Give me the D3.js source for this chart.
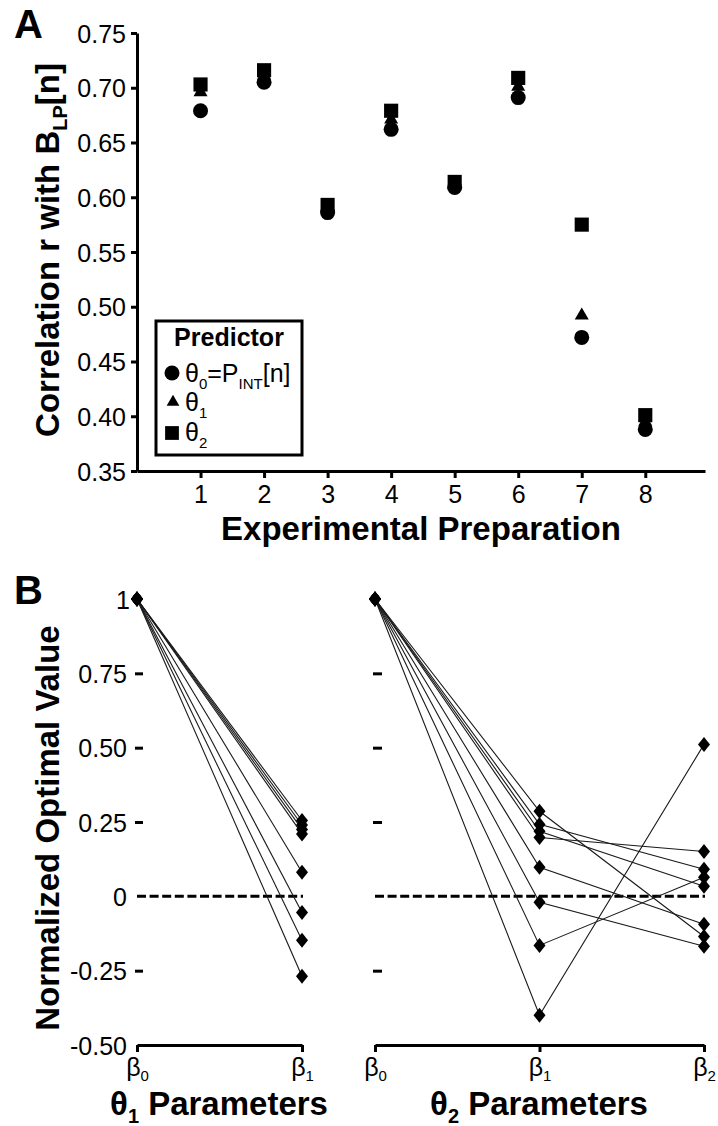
<!DOCTYPE html>
<html>
<head>
<meta charset="utf-8">
<script src="https://cdn.jsdelivr.net/npm/d3@7"></script>
<style>
  body { margin: 0; background: #fff; }
  svg { display: block; font-family: "Liberation Sans", Arial, Helvetica, sans-serif; }
</style>
</head>
<body>
<svg id="chart" width="718" height="1126"></svg>
<script>
// panel A : correlation with B_LP[n] per preparation
var preps = [1, 2, 3, 4, 5, 6, 7, 8];
var rTheta0 = [0.679, 0.705, 0.586, 0.662, 0.609, 0.691, 0.472, 0.388];
var rTheta1 = [0.696, 0.711, 0.590, 0.671, 0.612, 0.701, 0.492, 0.395];
var rTheta2 = [0.703, 0.716, 0.593, 0.679, 0.614, 0.709, 0.575, 0.401];
var yTicksA = [0.35, 0.40, 0.45, 0.50, 0.55, 0.60, 0.65, 0.70, 0.75];

// panel B : normalized optimal parameter values
var params1 = ["β0", "β1"];
var params2 = ["β0", "β1", "β2"];
var t1Beta0 = [1, 1, 1, 1, 1, 1, 1, 1];
var t1Beta1 = [0.255, 0.240, 0.225, 0.210, 0.081, -0.054, -0.148, -0.269];
var t2Beta0 = [1, 1, 1, 1, 1, 1, 1, 1];
var t2Beta1 = [0.286, 0.242, 0.219, 0.198, 0.098, -0.020, -0.165, -0.400];
var t2Beta2 = [-0.135, 0.091, 0.034, 0.151, -0.094, -0.168, 0.064, 0.511];
var yTicksB = [1, 0.75, 0.5, 0.25, 0, -0.25, -0.5];
var yTickLabelsB = ["1", "0.75", "0.50", "0.25", "0", "-0.25", "-0.50"];

var svg = d3.select("#chart");
var ink = "#000";

// diamond marker, a bit fatter than d3.symbolDiamond
var fatDiamond = {
  draw: function(ctx, size) {
    var h = Math.sqrt(size) / 2, w = h * 0.8;
    ctx.moveTo(0, -h); ctx.lineTo(w, 0); ctx.lineTo(0, h); ctx.lineTo(-w, 0); ctx.closePath();
  }
};

function styleAxis(g) {
  g.selectAll(".domain").attr("stroke", ink).attr("stroke-width", 3);
  g.selectAll(".tick line").attr("stroke", ink).attr("stroke-width", 3);
  g.selectAll(".tick text").attr("fill", ink).attr("font-size", 25).attr("font-family", null);
}

// ---------------- panel A ----------------
var xA = d3.scaleLinear().domain([0, 8.94]).range([137, 705]);
var yA = d3.scaleLinear().domain([0.35, 0.75]).range([471, 33]);

svg.append("text").attr("x", 14).attr("y", 38).attr("font-size", 40).attr("font-weight", "bold").text("A");

var gyA = svg.append("g").attr("transform", "translate(137,0)")
  .call(d3.axisLeft(yA).tickValues(yTicksA).tickFormat(d3.format(".2f")).tickSize(6).tickSizeOuter(0).tickPadding(5));
styleAxis(gyA);
gyA.selectAll(".tick text").attr("dy", "0.36em");

var gxA = svg.append("g").attr("transform", "translate(0,471)")
  .call(d3.axisBottom(xA).tickValues(preps).tickFormat(d3.format("d")).tickSize(7).tickSizeOuter(0).tickPadding(7));
styleAxis(gxA);

svg.append("text").attr("x", 421).attr("y", 540).attr("text-anchor", "middle")
  .attr("font-size", 33).attr("font-weight", "bold").text("Experimental Preparation");

var yTitleA = svg.append("text").attr("transform", "translate(59,250) rotate(-90)")
  .attr("text-anchor", "middle").attr("font-size", 33).attr("font-weight", "bold");
yTitleA.append("tspan").text("Correlation r with B");
yTitleA.append("tspan").attr("font-size", 20).attr("dy", 8).text("LP");
yTitleA.append("tspan").attr("dy", -8).text("[n]");

var rows = preps.map(function(p, i) { return { p: p, r0: rTheta0[i], r1: rTheta1[i], r2: rTheta2[i] }; });
var gA = svg.append("g");
gA.selectAll(".tri").data(rows).join("path")
  .attr("transform", function(d) { return "translate(" + xA(d.p) + "," + yA(d.r1) + ")"; })
  .attr("d", d3.symbol(d3.symbolTriangle, 85)).attr("fill", ink);
gA.selectAll(".sq").data(rows).join("path")
  .attr("transform", function(d) { return "translate(" + xA(d.p) + "," + yA(d.r2) + ")"; })
  .attr("d", d3.symbol(d3.symbolSquare, 200)).attr("fill", ink);
gA.selectAll(".circ").data(rows).join("circle")
  .attr("cx", function(d) { return xA(d.p); }).attr("cy", function(d) { return yA(d.r0); })
  .attr("r", 7.5).attr("fill", ink);

// legend
var leg = svg.append("g");
leg.append("rect").attr("x", 156).attr("y", 321).attr("width", 146).attr("height", 134)
  .attr("fill", "#fff").attr("stroke", ink).attr("stroke-width", 3);
leg.append("text").attr("x", 229).attr("y", 346).attr("text-anchor", "middle")
  .attr("font-size", 25).attr("font-weight", "bold").text("Predictor");
leg.append("circle").attr("cx", 172).attr("cy", 373).attr("r", 7.5).attr("fill", ink);
leg.append("path").attr("transform", "translate(173,402)").attr("d", d3.symbol(d3.symbolTriangle, 70)).attr("fill", ink);
leg.append("path").attr("transform", "translate(172,433)").attr("d", d3.symbol(d3.symbolSquare, 190)).attr("fill", ink);
var l0 = leg.append("text").attr("x", 185).attr("y", 382).attr("font-size", 25);
l0.append("tspan").text("θ");
l0.append("tspan").attr("font-size", 15).attr("dy", 7).text("0");
l0.append("tspan").attr("dy", -7).text("=P");
l0.append("tspan").attr("font-size", 15).attr("dy", 7).text("INT");
l0.append("tspan").attr("dy", -7).text("[n]");
var l1 = leg.append("text").attr("x", 185).attr("y", 411).attr("font-size", 25);
l1.append("tspan").text("θ");
l1.append("tspan").attr("font-size", 15).attr("dy", 7).text("1");
var l2 = leg.append("text").attr("x", 185).attr("y", 441).attr("font-size", 25);
l2.append("tspan").text("θ");
l2.append("tspan").attr("font-size", 15).attr("dy", 7).text("2");

// ---------------- panel B ----------------
var yB = d3.scaleLinear().domain([-0.5, 1]).range([1045, 599]);
var xB1 = d3.scalePoint().domain(params1).range([137, 302]);
var xB2 = d3.scalePoint().domain(params2).range([375, 704]);

svg.append("text").attr("x", 14).attr("y", 604).attr("font-size", 40).attr("font-weight", "bold").text("B");

svg.append("text").attr("transform", "translate(59,828) rotate(-90)")
  .attr("text-anchor", "middle").attr("font-size", 33).attr("font-weight", "bold")
  .text("Normalized Optimal Value");

// tick labels (left) and inward dash ticks of both sub-panels
var gyLab = svg.append("g").attr("transform", "translate(137,0)")
  .call(d3.axisLeft(yB).tickValues(yTicksB)
    .tickFormat(function(d, i) { return yTickLabelsB[i]; }).tickSize(0).tickPadding(10));
gyLab.select(".domain").remove();
styleAxis(gyLab);
gyLab.selectAll(".tick text").attr("dy", "0.36em")
  .attr("dx", function(d) { return d === 1 ? 3 : 0; });

function dashTicks(x0, len) {
  var g = svg.append("g").attr("transform", "translate(" + x0 + ",0)")
    .call(d3.axisRight(yB).tickValues(yTicksB.filter(function(d) { return d !== 1 && d !== 0 && d !== -0.5; }))
      .tickFormat("").tickSize(len));
  g.select(".domain").remove();
  styleAxis(g);
}
dashTicks(135, 8);
dashTicks(373, 9);

function betaAxis(scale) {
  var g = svg.append("g").attr("transform", "translate(0,1045)")
    .call(d3.axisBottom(scale).tickSize(7).tickSizeOuter(0).tickPadding(6).tickFormat(""));
  styleAxis(g);
  g.selectAll(".tick text").each(function(d) {
    var t = d3.select(this);
    t.append("tspan").text(d[0]);
    t.append("tspan").attr("font-size", 15).attr("dy", "0.3em").text(d.slice(1));
  }).attr("dy", "0.72em");
  return g;
}
betaAxis(xB1);
betaAxis(xB2);

function paneTitle(cx, sub) {
  var t = svg.append("text").attr("x", cx).attr("y", 1115).attr("text-anchor", "middle")
    .attr("font-size", 33).attr("font-weight", "bold");
  t.append("tspan").text("θ");
  t.append("tspan").attr("font-size", 20).attr("dy", 8).text(sub);
  t.append("tspan").attr("dy", -8).text(" Parameters");
}
paneTitle(219, "1");
paneTitle(539, "2");

// zero reference lines
[xB1, xB2].forEach(function(sc) {
  var r = sc.range();
  svg.append("line").attr("x1", r[0]).attr("x2", r[1] + 1).attr("y1", yB(0)).attr("y2", yB(0))
    .attr("stroke", ink).attr("stroke-width", 3).attr("stroke-dasharray", "9,3.6");
});

function drawProfiles(scale, keys, cols) {
  var series = cols[0].map(function(_, i) {
    return keys.map(function(k, j) { return { k: k, v: cols[j][i] }; });
  });
  var line = d3.line().x(function(d) { return scale(d.k); }).y(function(d) { return yB(d.v); });
  var g = svg.append("g");
  g.selectAll("path.prof").data(series).join("path").attr("class", "prof")
    .attr("d", line).attr("fill", "none").attr("stroke", "#1a1a1a").attr("stroke-width", 1.1);
  var pts = [].concat.apply([], series);
  g.selectAll("path.dm").data(pts).join("path").attr("class", "dm")
    .attr("transform", function(d) { return "translate(" + scale(d.k) + "," + yB(d.v) + ")"; })
    .attr("d", d3.symbol(fatDiamond, 225)).attr("fill", ink);
}
drawProfiles(xB1, params1, [t1Beta0, t1Beta1]);
drawProfiles(xB2, params2, [t2Beta0, t2Beta1, t2Beta2]);
</script>
</body>
</html>
